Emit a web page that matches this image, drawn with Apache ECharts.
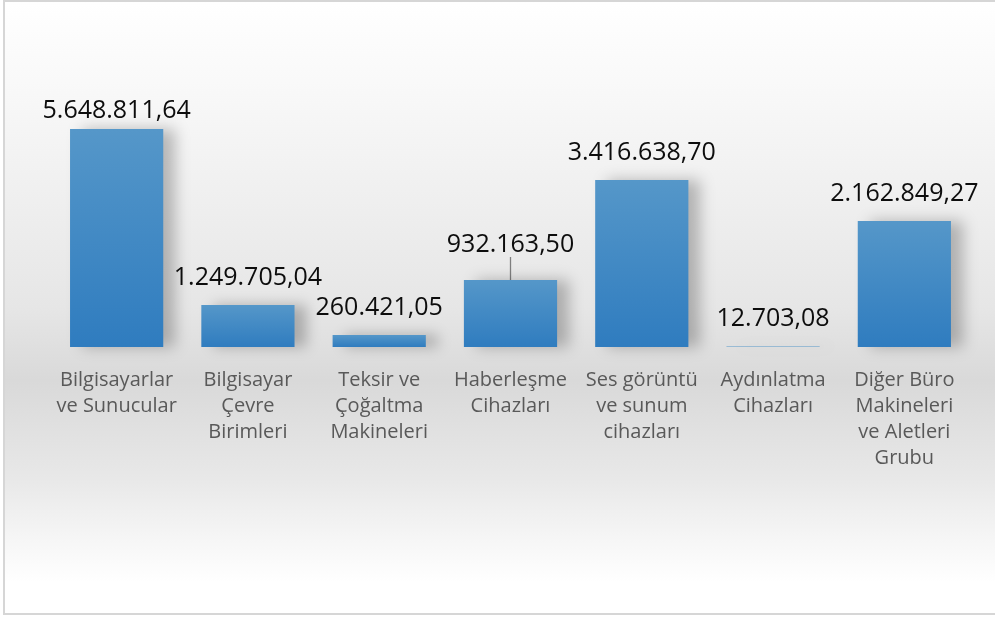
<!DOCTYPE html>
<html>
<head>
<meta charset="utf-8">
<script src="https://cdn.jsdelivr.net/npm/echarts@6/dist/echarts.min.js"></script>
<style>
    html, body { margin: 0; padding: 0; background: #fff; }
    #chart {
        position: absolute;
        left: 3px;
        top: 0;
        width: 992px;
        height: 615px;
        box-sizing: border-box;
        border-left: 2px solid #d6d6d6;
        border-top: 2px solid #d6d6d6;
        border-bottom: 2px solid #d6d6d6;
    }
</style>
</head>
<body>
<div id="chart"></div>
<script>
// kategoriler (eksen etiketleri)
var categories = [
    'Bilgisayarlar\nve Sunucular',
    'Bilgisayar\nÇevre\nBirimleri',
    'Teksir ve\nÇoğaltma\nMakineleri',
    'Haberleşme\nCihazları',
    'Ses görüntü\nve sunum\ncihazları',
    'Aydınlatma\nCihazları',
    'Diğer Büro\nMakineleri\nve Aletleri\nGrubu'
];
// çubuk yükseklikleri
var barValues = [5648811.64, 1088000, 311000, 1736000, 4327000, 12703.08, 3265000];
// çubukların üstündeki yazılar
var valueLabels = [
    '5.648.811,64',
    '1.249.705,04',
    '260.421,05',
    '932.163,50',
    '3.416.638,70',
    '12.703,08',
    '2.162.849,27'
];

var myChart = echarts.init(document.getElementById('chart'));

var seriesData = barValues.map(function (v, i) {
    var item = { value: v };
    if (i === 3) {
        item.labelLine = { show: true, lineStyle: { color: '#7f7f7f', width: 1.3 } };
    }
    return item;
});

var option = {
    backgroundColor: {
        type: 'linear', x: 0, y: 0, x2: 0, y2: 1,
        colorStops: [
            { offset: 0, color: '#ffffff' },
            { offset: 0.15, color: '#f8f8f8' },
            { offset: 0.5, color: '#e6e6e6' },
            { offset: 0.62, color: '#d9d9d9' },
            { offset: 0.78, color: '#e8e8e8' },
            { offset: 0.88, color: '#f6f6f6' },
            { offset: 0.95, color: '#ffffff' },
            { offset: 1, color: '#ffffff' }
        ]
    },
    grid: {
        left: 46,
        right: 25,
        top: 127,
        bottom: 266
    },
    xAxis: {
        type: 'category',
        data: categories,
        axisLine: { show: false },
        axisTick: { show: false },
        axisLabel: {
            interval: 0,
            margin: 20,
            color: '#595959',
            fontFamily: 'Open Sans',
            fontSize: 20,
            lineHeight: 26
        }
    },
    yAxis: {
        type: 'value',
        min: 0,
        max: function (v) { return v.max; },
        show: false,
        splitLine: { show: false }
    },
    series: [{
        type: 'bar',
        data: seriesData,
        barCategoryGap: '29%',
        itemStyle: {
            color: {
                type: 'linear', x: 0, y: 0, x2: 0, y2: 1,
                colorStops: [
                    { offset: 0, color: '#5597c9' },
                    { offset: 1, color: '#2f7cbf' }
                ]
            },
            shadowColor: 'rgba(0,0,0,0.25)',
            shadowBlur: 14,
            shadowOffsetX: 12,
            shadowOffsetY: 0
        },
        label: {
            show: true,
            position: 'top',
            distance: 15,
            color: '#0d0d0d',
            fontFamily: 'Open Sans',
            fontSize: 25,
            formatter: function (p) { return valueLabels[p.dataIndex]; }
        },
        labelLayout: function (p) {
            if (p.dataIndex === 0) return { dy: 9 };
            if (p.dataIndex === 3) return { dy: -8 };
            return {};
        }
    }]
};

myChart.setOption(option);
window.addEventListener('resize', function () {
    myChart.resize();
});
</script>
</body>
</html>
